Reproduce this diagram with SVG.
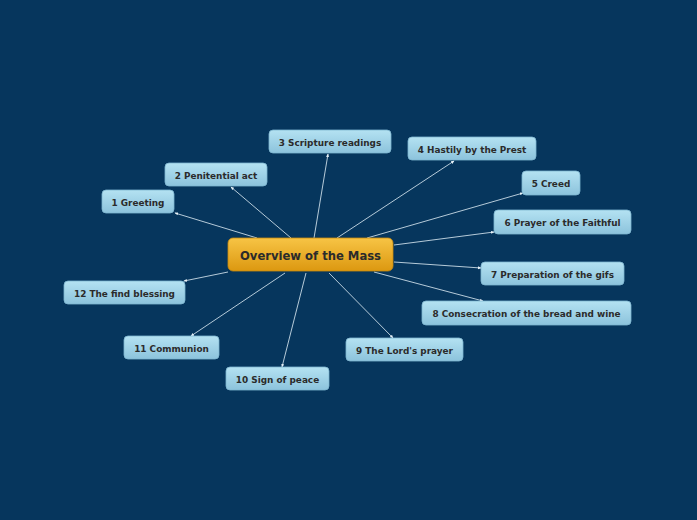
<svg xmlns="http://www.w3.org/2000/svg" width="697" height="520" viewBox="0 0 697 520">
<defs>
<linearGradient id="gb" x1="0" y1="0" x2="0" y2="1">
<stop offset="0" stop-color="#b4e2f2"/><stop offset="1" stop-color="#8cc3dc"/>
</linearGradient>
<linearGradient id="go" x1="0" y1="0" x2="0" y2="1">
<stop offset="0" stop-color="#f7c445"/><stop offset="1" stop-color="#dc9810"/>
</linearGradient>
<marker id="ar" markerWidth="4" markerHeight="4" refX="3" refY="2" orient="auto" markerUnits="userSpaceOnUse">
<path d="M0,0.5 L3.5,2 L0,3.5 Z" fill="#e8f2f8"/>
</marker>
</defs>
<style>
.n rect{fill:url(#gb);stroke:#7fb6d0;stroke-width:0.8}
.n text{font-family:"DejaVu Sans",sans-serif;font-weight:bold;font-size:8.9px;fill:#2b2b2b;text-anchor:middle}
.c rect{fill:url(#go);stroke:#c98a0c;stroke-width:0.8}
.c text{font-family:"DejaVu Sans",sans-serif;font-weight:bold;font-size:11.6px;fill:#2b2b2b;text-anchor:middle}
#connectors line{stroke:#c9dbe6;stroke-width:0.9;marker-end:url(#ar)}
</style>
<rect width="697" height="520" fill="#06365d"/>
<g id="connectors">
<line x1="257" y1="238" x2="175" y2="213"/>
<line x1="291" y1="238" x2="231" y2="187"/>
<line x1="314" y1="238" x2="328" y2="154"/>
<line x1="337" y1="238" x2="454" y2="161"/>
<line x1="367" y1="238" x2="523" y2="193"/>
<line x1="394" y1="245" x2="494" y2="232"/>
<line x1="394" y1="262" x2="481" y2="268"/>
<line x1="374" y1="272" x2="483" y2="301"/>
<line x1="329" y1="273" x2="393" y2="338"/>
<line x1="306" y1="273" x2="282" y2="367"/>
<line x1="285" y1="273" x2="191" y2="336"/>
<line x1="228" y1="272" x2="184" y2="281"/>
</g>
<g id="center" class="c"><rect x="228" y="238" width="165" height="33" rx="5"/><text x="310.5" y="259.5">Overview of the Mass</text></g>
<g id="n1" class="n"><rect x="102" y="190" width="72" height="23" rx="4"/><text x="138" y="205.5">1 Greeting</text></g>
<g id="n2" class="n"><rect x="165" y="163" width="102" height="23" rx="4"/><text x="216" y="178.5">2 Penitential act</text></g>
<g id="n3" class="n"><rect x="269" y="130" width="122" height="23" rx="4"/><text x="330" y="145.5">3 Scripture readings</text></g>
<g id="n4" class="n"><rect x="408" y="137" width="128" height="23" rx="4"/><text x="472" y="152.5">4 Hastily by the Prest</text></g>
<g id="n5" class="n"><rect x="522" y="171" width="58" height="24" rx="4"/><text x="551" y="187">5 Creed</text></g>
<g id="n6" class="n"><rect x="494" y="210" width="137" height="24" rx="4"/><text x="562.5" y="226">6 Prayer of the Faithful</text></g>
<g id="n7" class="n"><rect x="481" y="262" width="143" height="23" rx="4"/><text x="552.5" y="277.5">7 Preparation of the gifs</text></g>
<g id="n8" class="n"><rect x="422" y="301" width="209" height="24" rx="4"/><text x="526.5" y="317">8 Consecration of the bread and wine</text></g>
<g id="n9" class="n"><rect x="346" y="338" width="117" height="23" rx="4"/><text x="404.5" y="353.5">9 The Lord's prayer</text></g>
<g id="n10" class="n"><rect x="226" y="367" width="103" height="23" rx="4"/><text x="277.5" y="382.5">10 Sign of peace</text></g>
<g id="n11" class="n"><rect x="124" y="336" width="95" height="23" rx="4"/><text x="171.5" y="351.5">11 Communion</text></g>
<g id="n12" class="n"><rect x="64" y="281" width="121" height="23" rx="4"/><text x="124.5" y="296.5">12 The find blessing</text></g>
</svg>
